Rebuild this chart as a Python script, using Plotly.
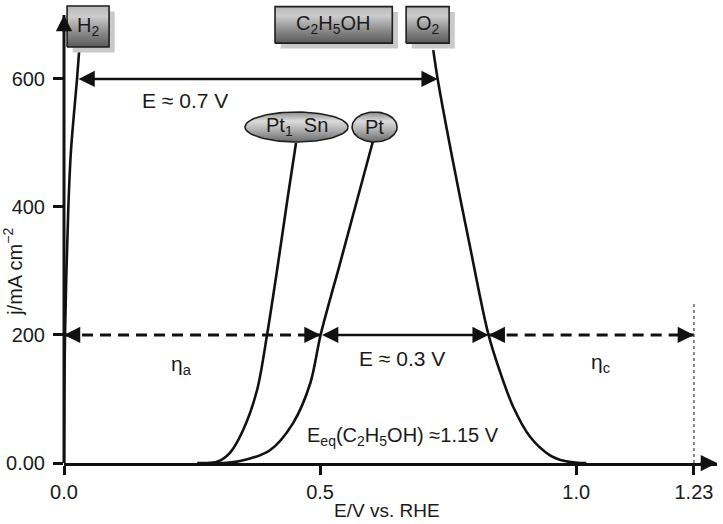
import numpy as np
import plotly.graph_objects as go

# ---- polarisation curves: potential (V vs. RHE) and current density (mA cm^-2) ----
h2_E = [0.0, 0.002, 0.0085, 0.0137, 0.0254, 0.030]
h2_j = [0, 200, 400, 489, 600, 648]

ptsn_E = [0.26, 0.275, 0.299, 0.324, 0.350, 0.377, 0.397, 0.418, 0.437, 0.453]
ptsn_j = [0, 0, 2, 16, 52, 114, 203, 312, 416, 500]

pt_E = [0.29, 0.31, 0.344, 0.402, 0.447, 0.481, 0.501, 0.539, 0.574, 0.604]
pt_j = [0, 0, 3, 20, 62, 125, 200, 312, 416, 505]

o2_E = [0.721, 0.730, 0.760, 0.793, 0.828, 0.852, 0.877, 0.910, 0.949, 0.978, 1.008, 1.02]
o2_j = [645, 598, 469, 337, 203, 141, 88, 41, 12, 3, 0, 0]

# reference levels
J_WINDOW = 600          # current density of the stability-window arrow
J_REF = 200             # current density of the overpotential arrows
E_EQ_O2 = 1.23          # equilibrium potential of O2/H2O

x_tickvals = [0.0, 0.5, 1.0, 1.23]
x_ticktext = ["0.0", "0.5", "1.0", "1.23"]
y_tickvals = [0, 200, 400, 600]
y_ticktext = ["0.00", "200", "400", "600"]

# ---- geometry / style ----
X_RANGE = [0, 1.275]
Y_RANGE = [0, 723.4]
FONT = "Liberation Sans, Arial, Helvetica, sans-serif"
INK = "#111111"
TXT = "#1a1a1a"
FS = 20


def crossing(E, j, level):
    """Potential at which a curve reaches a given current density."""
    E = np.asarray(E, float)
    j = np.asarray(j, float)
    if j[0] > j[-1]:
        E, j = E[::-1], j[::-1]
    return float(np.interp(level, j, E))


e_h2_win = crossing(h2_E, h2_j, J_WINDOW)
e_o2_win = crossing(o2_E, o2_j, J_WINDOW)
e_pt_ref = crossing(pt_E, pt_j, J_REF)
e_o2_ref = crossing(o2_E, o2_j, J_REF)

fig = go.Figure()


def rect(x0, x1, y0, y1):
    return [x0, x1, x1, x0, x0], [y0, y0, y1, y1, y0]


def ellipse(cx, cy, rx, ry, n=90):
    t = np.linspace(0, 2 * np.pi, n)
    return list(cx + rx * np.cos(t)), list(cy + ry * np.sin(t))


# curves
for E, j in [(h2_E, h2_j), (ptsn_E, ptsn_j), (pt_E, pt_j), (o2_E, o2_j)]:
    fig.add_trace(go.Scatter(x=E, y=j, mode="lines",
                             line=dict(color=INK, width=2.6, shape="spline", smoothing=0.9),
                             hoverinfo="skip"))

# labelled boxes (species) with drop shadow and grey gradient
boxes = [
    ("H<sub>2</sub>", 0.006, 0.088, 650, 714),
    ("C<sub>2</sub>H<sub>5</sub>OH", 0.412, 0.641, 656, 713),
    ("O<sub>2</sub>", 0.668, 0.752, 656, 713),
]
SHADOW_DX, SHADOW_DY = 0.011, 8.5
box_scale = [[0, "#5a5a5a"], [0.35, "#8a8a8a"], [0.75, "#cdcdcd"], [1, "#b8b8b8"]]
for label, x0, x1, y0, y1 in boxes:
    sx, sy = rect(x0 + SHADOW_DX, x1 + SHADOW_DX, y0 - SHADOW_DY, y1 - SHADOW_DY)
    fig.add_trace(go.Scatter(x=sx, y=sy, mode="lines", fill="toself",
                             fillcolor="#c9c9c9", line=dict(width=0), hoverinfo="skip"))
    bx, by = rect(x0, x1, y0, y1)
    fig.add_trace(go.Scatter(x=bx, y=by, mode="lines", fill="toself",
                             fillgradient=dict(type="vertical", colorscale=box_scale),
                             line=dict(color="#1e1e1e", width=1.6), hoverinfo="skip"))
    fig.add_annotation(x=(x0 + x1) / 2, y=(y0 + y1) / 2, text=label, showarrow=False,
                       font=dict(family=FONT, size=FS, color=TXT))

# labelled ellipses (catalysts)
ellipses = [
    ("Pt<sub>1</sub>  Sn", 0.454, 525, 0.1006, 23.4),
    ("Pt", 0.6064, 525, 0.044, 23.4),
]
ell_scale = [[0, "#6a6a6a"], [0.4, "#b0b0b0"], [0.7, "#dcdcdc"], [1, "#8a8a8a"]]
for label, cx, cy, rx, ry in ellipses:
    ex, ey = ellipse(cx, cy, rx, ry)
    fig.add_trace(go.Scatter(x=ex, y=ey, mode="lines", fill="toself",
                             fillgradient=dict(type="vertical", colorscale=ell_scale),
                             line=dict(color="#1e1e1e", width=1.6), hoverinfo="skip"))
    fig.add_annotation(x=cx, y=cy, text=label, showarrow=False,
                       font=dict(family=FONT, size=FS, color=TXT))

shapes = []
# y axis line (drawn as a shape so it stops below the arrow tip)
shapes.append(dict(type="line", xref="paper", yref="paper", x0=0, x1=0,
                   y0=0, y1=700 / Y_RANGE[1], line=dict(color=INK, width=3)))
# dashed overpotential lines
DASH = "11px,7px"
shapes.append(dict(type="line", xref="x", yref="y", x0=0, x1=e_pt_ref, y0=J_REF, y1=J_REF,
                   line=dict(color=INK, width=3.2, dash=DASH)))
shapes.append(dict(type="line", xref="x", yref="y", x0=e_o2_ref, x1=E_EQ_O2, y0=J_REF, y1=J_REF,
                   line=dict(color=INK, width=3.2, dash=DASH)))
# equilibrium potential marker
shapes.append(dict(type="line", xref="x", yref="y", x0=E_EQ_O2, x1=E_EQ_O2, y0=0, y1=252,
                   line=dict(color="#555555", width=1.4, dash="dot")))

HEAD = dict(arrowhead=2, arrowsize=1.3, arrowwidth=2.5, arrowcolor=INK)


def double_arrow(xa, xb, y):
    fig.add_annotation(x=xb, y=y, ax=xa, ay=y, axref="x", ayref="y", text="",
                       showarrow=True, arrowside="end+start", startarrowhead=2,
                       startarrowsize=1.3, **HEAD)


def head(x, y, dx_px, dy_px):
    fig.add_annotation(x=x, y=y, ax=dx_px, ay=dy_px, text="", showarrow=True, **HEAD)


double_arrow(e_h2_win, e_o2_win, J_WINDOW)
double_arrow(e_pt_ref, e_o2_ref, J_REF)
head(0, J_REF, 14, 0)
head(e_pt_ref, J_REF, -14, 0)
head(e_o2_ref, J_REF, 14, 0)
head(E_EQ_O2, J_REF, -14, 0)
# axis arrow tips
head(X_RANGE[1], 0, -18, 0)
head(0, 700, 0, 18)

# text labels
labels = [
    ("E \u2248 0.7 V", 0.236, 567, "center"),
    ("\u03b7<sub>a</sub>", 0.230, 153, "center"),
    ("E \u2248 0.3 V", 0.660, 164, "center"),
    ("\u03b7<sub>c</sub>", 1.047, 156, "center"),
    ("E<sub>eq</sub>(C<sub>2</sub>H<sub>5</sub>OH) \u22481.15 V", 0.471, 42, "left"),
]
for text, x, y, anchor in labels:
    fig.add_annotation(x=x, y=y, text=text, showarrow=False, xanchor=anchor,
                       font=dict(family=FONT, size=FS + 1 if anchor == "center" else FS, color=TXT))

# axis titles
fig.add_annotation(xref="paper", yref="paper", x=0.495, y=-0.102, text="E/V vs. RHE",
                   showarrow=False, yanchor="middle",
                   font=dict(family=FONT, size=FS - 1, color=TXT))
fig.add_annotation(xref="paper", yref="paper", x=-0.078, y=0.413, text="j/mA cm<sup>\u22122</sup>",
                   showarrow=False, textangle=-90, xanchor="center", yanchor="middle",
                   font=dict(family=FONT, size=FS, color=TXT))

fig.update_layout(
    width=723, height=524,
    margin=dict(l=64, r=6, t=0, b=61),
    paper_bgcolor="white", plot_bgcolor="white",
    showlegend=False,
    shapes=shapes,
    font=dict(family=FONT, size=FS, color=TXT),
    xaxis=dict(range=X_RANGE, showgrid=False, zeroline=False, showline=True,
               linecolor=INK, linewidth=3, ticks="outside", ticklen=9, tickwidth=2.5,
               tickcolor=INK, tickvals=x_tickvals, ticktext=x_ticktext,
               tickfont=dict(family=FONT, size=FS, color=TXT)),
    yaxis=dict(range=Y_RANGE, showgrid=False, zeroline=False, showline=False,
               ticks="outside", ticklen=10, tickwidth=2.5, tickcolor=INK,
               ticklabelstandoff=4,
               tickvals=y_tickvals, ticktext=y_ticktext,
               tickfont=dict(family=FONT, size=FS, color=TXT)),
)

fig.write_html("out.html")
